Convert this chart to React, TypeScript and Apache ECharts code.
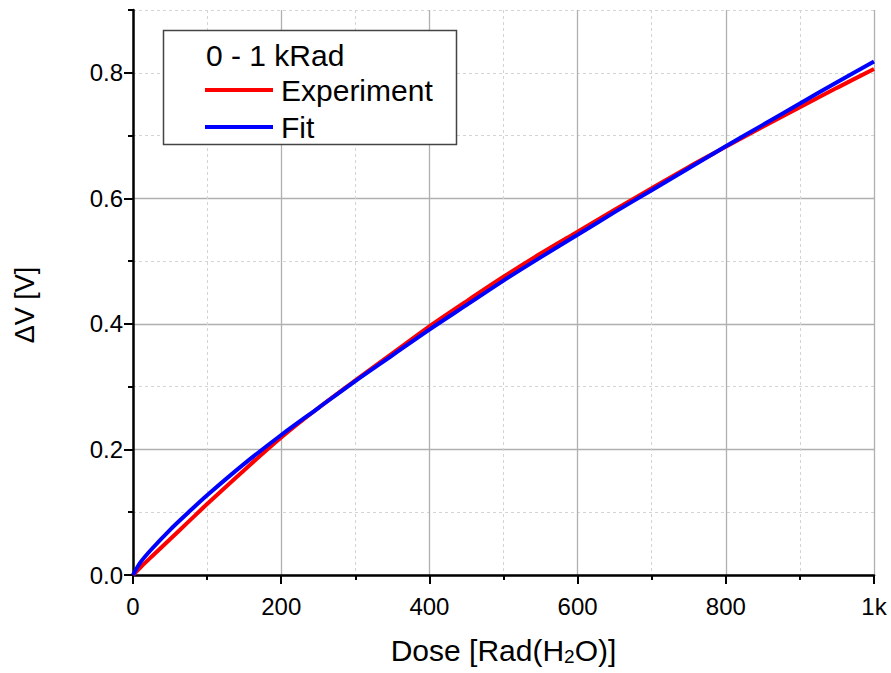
import React, { useEffect, useRef } from "react";
import * as echarts from "echarts";

const doses = [0, 10, 25, 50, 75, 100, 150, 200, 250, 300, 350, 400, 450, 500, 550, 600, 650, 700, 750, 800, 850, 900, 950, 1000];
const experiment = [0, 0.012, 0.029, 0.057, 0.085, 0.113, 0.167, 0.219, 0.266, 0.31, 0.353, 0.396, 0.436, 0.475, 0.512, 0.547, 0.582, 0.616, 0.65, 0.682, 0.714, 0.745, 0.776, 0.806];
const fit = [0, 0.02, 0.041, 0.072, 0.1, 0.127, 0.177, 0.223, 0.266, 0.309, 0.35, 0.391, 0.43, 0.469, 0.506, 0.542, 0.578, 0.613, 0.648, 0.683, 0.717, 0.751, 0.785, 0.818];
const majorYTicks = [0, 0.2, 0.4, 0.6, 0.8];
const legendTitle = "0 - 1 kRad";
const seriesNames = ["Experiment", "Fit"];

const FONT = 'Arial, "Liberation Sans", sans-serif';

export default function App() {
  const ref = useRef<HTMLDivElement>(null);
  useEffect(() => {
    if (!ref.current) return;
    const chart = echarts.init(ref.current, null, { renderer: "svg" });
    const expData = doses.map((d, i) => [d, experiment[i]]);
    const fitData = doses.map((d, i) => [d, fit[i]]);
    const baseY = {
      type: "value",
      min: 0,
      max: 0.9,
      position: "left",
    };
    chart.setOption({
      animation: false,
      backgroundColor: "#fff",
      grid: { left: 133, right: 17, top: 10, bottom: 98, containLabel: false, outerBoundsMode: "none" },
      xAxis: {
        type: "value",
        min: 0,
        max: 1000,
        interval: 200,
        name: "{n|Dose [Rad(H}{s|2}{n|O)]}",
        nameLocation: "middle",
        nameGap: 60,
        nameTextStyle: {
          fontFamily: FONT,
          fontSize: 30,
          color: "#000",
          rich: {
            n: { fontFamily: FONT, fontSize: 30, lineHeight: 31, color: "#000" },
            s: { fontFamily: FONT, fontSize: 19, lineHeight: 19, padding: [18, 0, 0, 0], verticalAlign: "bottom", color: "#000" },
          },
        },
        axisLine: { show: true, onZero: false, lineStyle: { color: "#000", width: 2.5 } },
        axisTick: { show: true, inside: false, length: 9, lineStyle: { color: "#000", width: 2 } },
        minorTick: { show: true, splitNumber: 2, length: 5, lineStyle: { color: "#000", width: 2 } },
        axisLabel: {
          margin: 19,
          fontFamily: FONT,
          fontSize: 24,
          color: "#000",
          formatter: (v: number) => (v === 1000 ? "1k" : String(v)),
        },
        splitLine: { show: true, lineStyle: { color: "#b0b0b0", width: 1.3 } },
        minorSplitLine: { show: true, lineStyle: { color: "#d4d4d4", width: 1, type: [3, 3] } },
      },
      yAxis: [
        {
          ...baseY,
          interval: 0.1,
          axisLine: { show: true, onZero: false, lineStyle: { color: "#000", width: 2.5 } },
          axisTick: { show: true, inside: false, length: 5, lineStyle: { color: "#000", width: 2 } },
          axisLabel: {
            margin: 10,
            fontFamily: FONT,
            fontSize: 24,
            color: "#000",
            formatter: (v: number) => (Math.round(v * 10) % 2 === 0 ? v.toFixed(1) : ""),
          },
          splitLine: { show: true, lineStyle: { color: "#d4d4d4", width: 1, type: [3, 3] } },
        },
        {
          ...baseY,
          interval: 0.2,
          axisLine: { show: false },
          axisTick: { show: true, inside: false, length: 9, customValues: majorYTicks, lineStyle: { color: "#000", width: 2 } },
          axisLabel: { show: false },
          splitLine: { show: true, showMaxLine: false, lineStyle: { color: "#b0b0b0", width: 1.3 } },
        },
      ],
      legend: {
        data: seriesNames,
        orient: "vertical",
        left: 205,
        top: 75,
        padding: 0,
        itemGap: 7,
        itemWidth: 68,
        itemHeight: 4,
        icon: "rect",
        selectedMode: false,
        z: 10,
        textStyle: { fontFamily: FONT, fontSize: 30, lineHeight: 30, color: "#000", padding: [0, 0, 0, 3] },
      },
      graphic: [
        {
          type: "rect",
          z: 8,
          shape: { x: 163.5, y: 30.5, width: 293, height: 114 },
          style: { fill: "#fff", stroke: "#444", lineWidth: 1.5 },
        },
        {
          type: "text",
          z: 9,
          x: 206,
          y: 55,
          style: { text: legendTitle, fontFamily: FONT, fontSize: 30, fill: "#000", verticalAlign: "middle", align: "left" },
        },
        {
          type: "text",
          z: 9,
          x: 25,
          y: 305,
          rotation: Math.PI / 2,
          style: { text: "ΔV [V]", fontFamily: FONT, fontSize: 27, fill: "#000", verticalAlign: "middle", align: "center" },
        },
      ],
      series: [
        {
          name: seriesNames[0],
          type: "line",
          data: expData,
          showSymbol: false,
          symbol: "none",
          smooth: 0.3,
          z: 3,
          lineStyle: { color: "#ff0000", width: 4 },
          itemStyle: { color: "#ff0000" },
        },
        {
          name: seriesNames[1],
          type: "line",
          data: fitData,
          showSymbol: false,
          symbol: "none",
          smooth: 0.3,
          z: 4,
          lineStyle: { color: "#0000ff", width: 4 },
          itemStyle: { color: "#0000ff" },
        },
      ],
    });
    return () => chart.dispose();
  }, []);
  return <div ref={ref} style={{ position: "fixed", left: 0, top: 0, width: 891, height: 673, background: "#fff" }} />;
}
